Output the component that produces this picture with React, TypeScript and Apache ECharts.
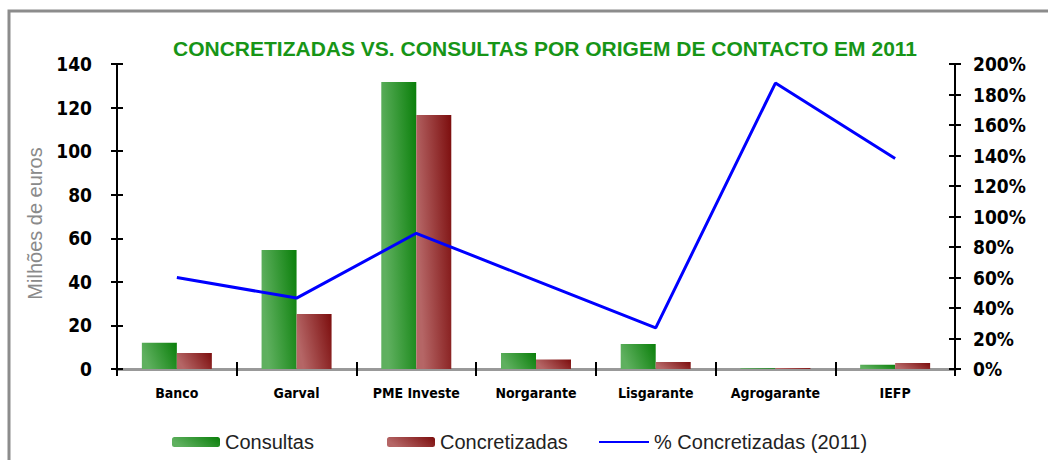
import React, { useEffect, useRef } from "react";
import * as echarts from "echarts";

const categories = ["Banco", "Garval", "PME Investe", "Norgarante", "Lisgarante", "Agrogarante", "IEFP"];
const consultas = [12.1, 54.6, 131.7, 7.3, 11.5, 0.3, 2.0];
const concretizadas = [7.3, 25.2, 116.6, 4.4, 3.2, 0.5, 2.7];
const pctConcretizadas = [60, 46.5, 89, 58, 27, 187.5, 138];
const leftTicks = { min: 0, max: 140, interval: 20 };
const rightTicks = { min: 0, max: 200, interval: 20 };

const NARROW = "'DejaVu Sans Condensed', 'Liberation Sans', Arial, sans-serif";
const SANS = "'Liberation Sans', Arial, sans-serif";

export default function App() {
  const ref = useRef<HTMLDivElement>(null);
  useEffect(() => {
    if (!ref.current) return;
    const chart = echarts.init(ref.current, null, { renderer: "svg" });
    const greenGrad = new echarts.graphic.LinearGradient(0, 0.3, 1, 0, [
      { offset: 0, color: "#5fb05f" },
      { offset: 1, color: "#0a7f0a" },
    ]);
    const redGrad = new echarts.graphic.LinearGradient(0, 0.3, 1, 0, [
      { offset: 0, color: "#b56666" },
      { offset: 1, color: "#7c0d0d" },
    ]);
    const axisLineBlack = { show: true, lineStyle: { color: "#000", width: 2 } };
    const legendBase = {
      top: 432,
      padding: 0,
      itemWidth: 48,
      itemHeight: 10,
      itemGap: 4,
      textStyle: { fontSize: 20, color: "#222", fontFamily: SANS },
    };
    chart.setOption({
      animation: false,
      backgroundColor: "#fff",
      title: {
        text: "CONCRETIZADAS VS. CONSULTAS POR ORIGEM DE CONTACTO EM 2011",
        left: 540,
        textAlign: "center",
        top: 33,
        textStyle: { color: "#179517", fontSize: 21, fontWeight: "bold", fontFamily: SANS },
      },
      graphic: [
        {
          type: "rect",
          shape: { x: 9, y: 11, width: 1200, height: 600 },
          style: { fill: "none", stroke: "#8c8c8c", lineWidth: 3 },
          silent: true,
        },
      ],
      legend: [
        { ...legendBase, left: 172, data: ["Consultas"] },
        { ...legendBase, left: 387, data: ["Concretizadas"] },
        {
          ...legendBase,
          left: 598,
          itemWidth: 50,
          data: [{ name: "% Concretizadas (2011)", itemStyle: { opacity: 0 } }],
        },
      ],
      grid: { left: 117, right: 93, top: 64, bottom: 91, containLabel: false },
      xAxis: [
        {
          type: "category",
          data: categories,
          position: "bottom",
          axisLine: axisLineBlack,
          axisTick: { show: true, length: 7, lineStyle: { color: "#000", width: 2 } },
          axisLabel: {
            interval: 0,
            margin: 17,
            fontSize: 14,
            fontWeight: "bold",
            color: "#000",
            fontFamily: NARROW,
          },
        },
        {
          type: "category",
          data: categories,
          position: "bottom",
          axisLine: { show: false },
          axisTick: { show: true, inside: true, length: 7, lineStyle: { color: "#000", width: 2 } },
          axisLabel: { show: false },
        },
        {
          type: "category",
          data: categories,
          position: "top",
          axisLine: { show: true, lineStyle: { color: "#999", width: 3 } },
          axisTick: { show: false },
          axisLabel: { show: false },
        },
      ],
      yAxis: [
        {
          type: "value",
          ...leftTicks,
          position: "left",
          name: "Milhões de euros",
          nameLocation: "middle",
          nameGap: 70,
          nameTextStyle: { color: "#8a8a8a", fontSize: 20, fontFamily: SANS, padding: [0, 14, 0, 0] },
          axisLine: axisLineBlack,
          axisTick: { show: true, length: 6, lineStyle: { color: "#000", width: 2 } },
          axisLabel: { margin: 25, fontSize: 19, fontWeight: "bold", color: "#000", fontFamily: NARROW },
          splitLine: { show: false },
        },
        {
          type: "value",
          ...rightTicks,
          position: "right",
          axisLine: axisLineBlack,
          axisTick: { show: true, length: 6, lineStyle: { color: "#000", width: 2 } },
          axisLabel: {
            margin: 18,
            fontSize: 19,
            fontWeight: "bold",
            color: "#000",
            fontFamily: NARROW,
            formatter: "{value}%",
          },
          splitLine: { show: false },
        },
        {
          type: "value",
          ...leftTicks,
          position: "left",
          axisLine: { show: false },
          axisTick: { show: true, inside: true, length: 6, lineStyle: { color: "#000", width: 2 } },
          axisLabel: { show: false },
          splitLine: { show: false },
        },
        {
          type: "value",
          ...rightTicks,
          position: "right",
          axisLine: { show: false },
          axisTick: { show: true, inside: true, length: 6, lineStyle: { color: "#000", width: 2 } },
          axisLabel: { show: false },
          splitLine: { show: false },
        },
      ],
      series: [
        {
          name: "Consultas",
          type: "bar",
          xAxisIndex: 0,
          yAxisIndex: 0,
          data: consultas,
          barWidth: 35,
          barGap: "0%",
          itemStyle: { color: greenGrad },
        },
        {
          name: "Concretizadas",
          type: "bar",
          xAxisIndex: 0,
          yAxisIndex: 0,
          data: concretizadas,
          barWidth: 35,
          barGap: "0%",
          itemStyle: { color: redGrad },
        },
        {
          name: "% Concretizadas (2011)",
          type: "line",
          xAxisIndex: 0,
          yAxisIndex: 1,
          data: pctConcretizadas,
          symbol: "none",
          lineStyle: { color: "#0000ff", width: 3 },
          itemStyle: { color: "#0000ff" },
          z: 5,
        },
      ],
    });
    return () => chart.dispose();
  }, []);
  return (
    <div
      ref={ref}
      style={{ position: "absolute", left: 0, top: 0, width: 1048, height: 460 }}
    />
  );
}
